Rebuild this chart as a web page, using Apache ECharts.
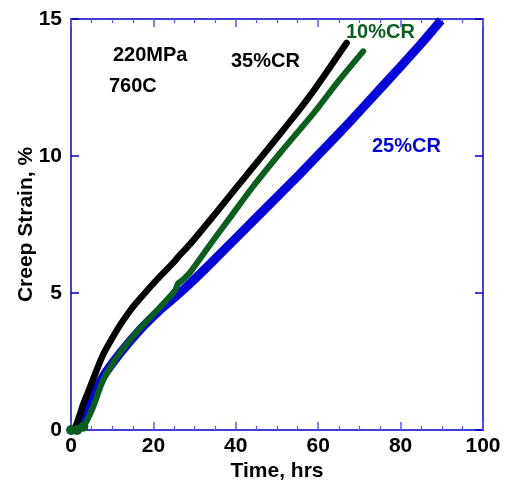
<!DOCTYPE html>
<html>
<head>
<meta charset="utf-8">
<script src="https://cdn.jsdelivr.net/npm/echarts@6/dist/echarts.min.js"></script>
<style>html,body{margin:0;padding:0;background:#fff;}#c{width:515px;height:483px;}</style>
</head>
<body>
<div id="c"></div>
<script>
var xTicks = [0, 20, 40, 60, 80, 100];
var yTicks = [0, 5, 10, 15];

var time35 = [0, 1, 2, 3, 4.6, 6, 7.8, 10, 12, 14.3, 15.9, 20.8, 24.8, 26.5, 29, 33.7, 38, 42.6, 48.3, 54.8, 58, 61.2, 66.9];
var strain35 = [0, 0.1, 0.5, 0.95, 1.55, 2.1, 2.75, 3.35, 3.85, 4.35, 4.65, 5.48, 6.1, 6.4, 6.8, 7.65, 8.45, 9.3, 10.35, 11.57, 12.2, 12.88, 14.13];

var time10 = [0, 1.5, 3.0, 5.4, 7.8, 11.1, 14.3, 16.7, 20.8, 24.5, 25.3, 26.0, 27.3, 28.9, 33.7, 38.6, 44.0, 50.7, 58.0, 60.4, 65.0, 70.9];
var strain10 = [0, 0, 0.12, 0.85, 1.83, 2.65, 3.28, 3.7, 4.35, 4.95, 5.1, 5.35, 5.5, 5.75, 6.75, 7.75, 8.85, 10.1, 11.4, 11.85, 12.75, 13.82];

var time25 = [0, 1.4, 2.5, 4.6, 7.8, 11.9, 16.7, 21.6, 25, 28.9, 33.7, 41, 48.3, 55.6, 62, 67.7, 72.6, 79.9, 85, 89.8];
var strain25 = [0, 0, 0.4, 0.97, 1.95, 2.8, 3.65, 4.38, 4.82, 5.35, 6.05, 7.15, 8.25, 9.35, 10.35, 11.25, 12.05, 13.25, 14.1, 14.95];

function pairs(t, s) { return t.map(function (v, i) { return [v, s[i]]; }); }

var FONT = '"Liberation Sans", Arial, sans-serif';
var chart = echarts.init(document.getElementById('c'));
var axisBlue = '#0000c8';
var tickBlue = '#5858f0';
var green = '#0b5e1e';
var blue = '#0505d8';

var baseX = {
  type: 'value', min: xTicks[0], max: xTicks[xTicks.length - 1], interval: 20,
  axisLine: { show: true, onZero: false, lineStyle: { color: axisBlue, width: 1.5 } },
  axisTick: { show: true, inside: true, length: 8, lineStyle: { color: tickBlue, width: 1.5 } },
  minorTick: { show: true, splitNumber: 4, length: 4, lineStyle: { color: tickBlue, width: 1.2 } },
  splitLine: { show: false }
};
var baseY = {
  type: 'value', min: yTicks[0], max: yTicks[yTicks.length - 1], interval: 5,
  axisLine: { show: true, onZero: false, lineStyle: { color: axisBlue, width: 1.5 } },
  axisTick: { show: true, inside: true, length: 8, lineStyle: { color: axisBlue, width: 1.5 } },
  splitLine: { show: false }
};

chart.setOption({
  animation: false,
  backgroundColor: '#fff',
  grid: { left: 71, right: 32, top: 19, bottom: 53, containLabel: false, outerBoundsMode: 'none' },
  xAxis: [
    Object.assign({}, baseX, {
      position: 'bottom',
      name: 'Time, hrs', nameLocation: 'middle', nameGap: 31, nameMoveOverlap: false,
      nameTextStyle: { fontFamily: FONT, fontWeight: 'bold', fontSize: 21, color: '#000' },
      axisLabel: { show: true, margin: 6, fontFamily: FONT, fontWeight: 'bold', fontSize: 21, color: '#000' }
    }),
    Object.assign({}, baseX, { position: 'top', axisLabel: { show: false } })
  ],
  yAxis: [
    Object.assign({}, baseY, {
      position: 'left',
      name: 'Creep Strain, %', nameLocation: 'middle', nameGap: 34, nameMoveOverlap: false,
      nameTextStyle: { fontFamily: FONT, fontWeight: 'bold', fontSize: 21, color: '#000' },
      axisLabel: { show: true, margin: 9, fontFamily: FONT, fontWeight: 'bold', fontSize: 21, color: '#000' }
    }),
    Object.assign({}, baseY, { position: 'right', axisLabel: { show: false } })
  ],
  series: [
    { name: '25%CR', type: 'line', data: pairs(time25, strain25), showSymbol: false, smooth: 0.25,
      lineStyle: { color: blue, width: 9, cap: 'butt' }, z: 2 },
    { name: '35%CR', type: 'line', data: pairs(time35, strain35), showSymbol: false, smooth: 0.25,
      lineStyle: { color: '#000000', width: 6.5, cap: 'round' }, z: 3 },
    { name: '10%CR', type: 'line', data: pairs(time10, strain10), smooth: 0.25,
      showSymbol: true, symbol: 'circle',
      symbolSize: function (v) { return v[0] <= 3 ? 10 : 0; },
      itemStyle: { color: green, borderWidth: 0 },
      lineStyle: { color: green, width: 6, cap: 'round' }, z: 4 }
  ],
  graphic: [
    { type: 'text', left: 113, top: 45, style: { text: '220MPa', font: 'bold 20px ' + FONT, fill: '#000' } },
    { type: 'text', left: 109, top: 76, style: { text: '760C', font: 'bold 20px ' + FONT, fill: '#000' } },
    { type: 'text', left: 231, top: 51, style: { text: '35%CR', font: 'bold 20px ' + FONT, fill: '#000' } },
    { type: 'text', left: 346, top: 22, style: { text: '10%CR', font: 'bold 20px ' + FONT, fill: green } },
    { type: 'text', left: 372, top: 136, style: { text: '25%CR', font: 'bold 20px ' + FONT, fill: blue } }
  ]
});
</script>
</body>
</html>
